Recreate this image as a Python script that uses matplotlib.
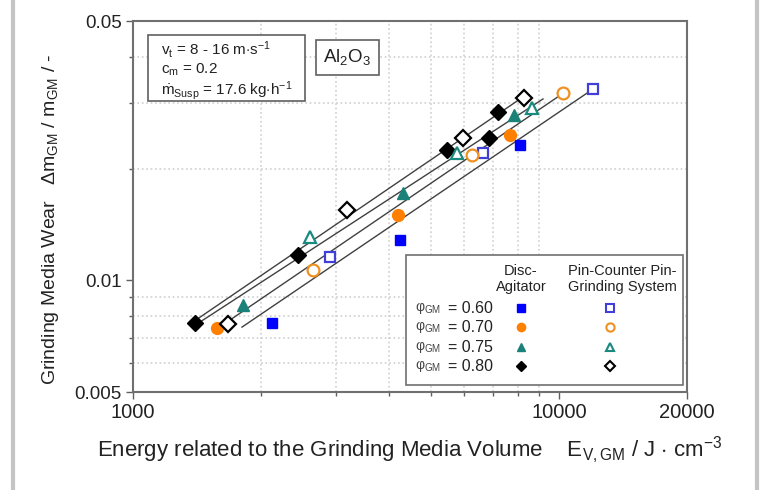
import matplotlib
matplotlib.use("Agg")
import matplotlib.pyplot as plt
from matplotlib.lines import Line2D
from matplotlib.ticker import LogLocator, FixedLocator, NullFormatter, FixedFormatter
import numpy as np

plt.rcParams['font.family'] = ['Liberation Sans', 'DejaVu Sans']
plt.rcParams['mathtext.fontset'] = 'custom'
plt.rcParams['mathtext.rm'] = 'Liberation Sans'
plt.rcParams['mathtext.it'] = 'Liberation Sans'
plt.rcParams['mathtext.bf'] = 'Liberation Sans:bold'

# ---- data ----
phi_labels = ["0.60", "0.70", "0.75", "0.80"]

E_disc_060 = [2121, 4238, 8109]
W_disc_060 = [0.00767, 0.01284, 0.02316]
E_disc_070 = [1575, 4193, 7683]
W_disc_070 = [0.00744, 0.0150, 0.02464]
E_disc_075 = [1813, 4307, 7851]
W_disc_075 = [0.00858, 0.01719, 0.02790]
E_disc_080 = [1398, 2441, 5464, 6857, 7197]
W_disc_080 = [0.00767, 0.0117, 0.02245, 0.02419, 0.02842]

E_pin_060 = [2902, 6637, 12033]
W_pin_060 = [0.01156, 0.02204, 0.03278]
E_pin_070 = [2647, 6254, 10231]
W_pin_070 = [0.01066, 0.02176, 0.03198]
E_pin_075 = [2605, 5767, 8652]
W_pin_075 = [0.01308, 0.02204, 0.02914]
E_pin_080 = [1672, 3182, 5957, 8286]
W_pin_080 = [0.00763, 0.01548, 0.02419, 0.03101]

# fitted trend lines (start / end in data units)
fit_E_start = [1383, 1437, 1663, 1803]
fit_W_start = [0.00772, 0.00772, 0.00772, 0.00748]
fit_E_end = [8239, 9181, 10174, 12033]
fit_W_end = [0.03120, 0.03082, 0.03178, 0.03278]

x_ticks = [1000, 10000, 20000]
x_ticklabels = ["1000", "10000", "20000"]
y_ticks = [0.005, 0.01, 0.05]
y_ticklabels = ["0.005", "0.01", "0.05"]

info_lines = ["v$_{t}$ = 8 - 16 m$\\cdot$s$^{-1}$",
              "c$_{m}$ = 0.2",
              "$\\dot{\\mathrm{m}}_{Susp}$ = 17.6 kg$\\cdot$h$^{-1}$"]

# ---- styles ----
disc_styles = [
    dict(marker='s', color='#0000ff', ms=7.5),
    dict(marker='o', color='#ff7f00', ms=8.5),
    dict(marker='^', color='#1a8278', ms=9),
    dict(marker='D', color='#000000', ms=8),
]
pin_styles = [
    dict(marker='s', color='#4040d8', ms=7.5),
    dict(marker='o', color='#f09020', ms=8.5),
    dict(marker='^', color='#1a8a80', ms=9),
    dict(marker='D', color='#000000', ms=8),
]

fig = plt.figure(figsize=(7.6, 4.9), dpi=100)
ax = fig.add_axes([133/760, 1-392/490, (687-133)/760, (392-21)/490])
ax.set_xscale('log')
ax.set_yscale('log')
ax.set_xlim(1000, 20000)
ax.set_ylim(0.005, 0.05)

def ax_x(px):
    return (px - 133) / 554

def ax_y(py):
    return (392 - py) / 371

# grid (dotted, minor positions)
ax.grid(True, which='minor', linestyle=':', color='#cfcfcf', linewidth=1.2)
ax.set_axisbelow(True)

# trend lines
for es, ws, ee, we in zip(fit_E_start, fit_W_start, fit_E_end, fit_W_end):
    ax.plot([es, ee], [ws, we], color='#404040', linewidth=1.0, zorder=2)

disc_E = [E_disc_060, E_disc_070, E_disc_075, E_disc_080]
disc_W = [W_disc_060, W_disc_070, W_disc_075, W_disc_080]
pin_E = [E_pin_060, E_pin_070, E_pin_075, E_pin_080]
pin_W = [W_pin_060, W_pin_070, W_pin_075, W_pin_080]

for E, W, st in zip(disc_E, disc_W, disc_styles):
    ax.plot(E, W, linestyle='none', marker=st['marker'], markersize=st['ms'],
            color=st['color'], markeredgecolor=st['color'], zorder=3)
for E, W, st in zip(pin_E, pin_W, pin_styles):
    ax.plot(E, W, linestyle='none', marker=st['marker'], markersize=st['ms'],
            markerfacecolor='white', markeredgecolor=st['color'],
            markeredgewidth=1.6, zorder=3)

# ticks
ax.xaxis.set_major_locator(FixedLocator(x_ticks))
ax.xaxis.set_major_formatter(FixedFormatter(x_ticklabels))
ax.xaxis.set_minor_locator(LogLocator(base=10, subs=np.arange(2, 10)))
ax.xaxis.set_minor_formatter(NullFormatter())
ax.yaxis.set_major_locator(FixedLocator(y_ticks))
ax.yaxis.set_major_formatter(FixedFormatter(y_ticklabels))
ax.yaxis.set_minor_locator(LogLocator(base=10, subs=np.arange(2, 10)))
ax.yaxis.set_minor_formatter(NullFormatter())
ax.tick_params(which='major', direction='out', length=5, width=1, color='#606060',
               labelcolor='#222222', pad=3)
ax.tick_params(axis='y', which='major', labelsize=13.5)
ax.tick_params(axis='x', which='major', labelsize=14.5)
ax.tick_params(which='minor', direction='out', length=3, width=1, color='#606060')

for sp in ax.spines.values():
    sp.set_color('#707070')
    sp.set_linewidth(1.5)

ax.set_xlabel("Energy related to the Grinding Media Volume    E$_{V,GM}$ / J $\\cdot$ cm$^{-3}$",
              fontsize=16, color='#222222', labelpad=9)
ax.set_ylabel("Grinding Media Wear   $\\Delta$m$_{GM}$ / m$_{GM}$ / -",
              fontsize=14, color='#222222')
ax.yaxis.set_label_coords(-0.13, 0.465)

# info box 1
ax.add_patch(plt.Rectangle((ax_x(148), ax_y(101)), ax_x(305) - ax_x(148), ax_y(35) - ax_y(101),
                           transform=ax.transAxes, facecolor='white', edgecolor='#606060',
                           linewidth=1.2, zorder=5))
for txt, py in zip(info_lines, [49, 70, 91]):
    ax.text(ax_x(161), ax_y(py), txt, transform=ax.transAxes, fontsize=11,
            va='center', ha='left', color='#222222', zorder=6)

# info box 2
ax.text(ax_x(323), ax_y(57), "Al$_{2}$O$_{3}$", transform=ax.transAxes, fontsize=13.5,
        va='center', ha='left', color='#222222',
        bbox=dict(boxstyle='square,pad=0.4', facecolor='white', edgecolor='#606060', linewidth=1.2))

# custom legend
ax.add_patch(plt.Rectangle((ax_x(406), ax_y(385)), ax_x(683) - ax_x(406), ax_y(255) - ax_y(385),
                           transform=ax.transAxes, facecolor='white', edgecolor='#707070',
                           linewidth=1.2, zorder=5))
ax.text(ax_x(521), ax_y(279), "Disc-\nAgitator", transform=ax.transAxes, fontsize=10.5,
        ha='center', va='center', color='#222222', zorder=6, linespacing=1.2)
ax.text(ax_x(622), ax_y(279), "Pin-Counter Pin-\nGrinding System", transform=ax.transAxes,
        fontsize=10.5, ha='center', va='center', color='#222222', zorder=6, linespacing=1.2)
row_y = [308, 327, 347, 366]
for lab, ry, sd, sp_ in zip(phi_labels, row_y, disc_styles, pin_styles):
    yy = ax_y(ry)
    ax.text(ax_x(415), yy, "φ$_{GM}$", transform=ax.transAxes, fontsize=10,
            ha='left', va='center', color='#444444', zorder=6)
    ax.text(ax_x(448), yy, "= " + lab, transform=ax.transAxes, fontsize=11.5,
            ha='left', va='center', color='#222222', zorder=6)
    ax.plot([ax_x(521)], [yy], transform=ax.transAxes, linestyle='none',
            marker=sd['marker'], markersize=sd['ms']*0.7, color=sd['color'],
            clip_on=False, zorder=7)
    ax.plot([ax_x(610)], [yy], transform=ax.transAxes, linestyle='none',
            marker=sp_['marker'], markersize=sp_['ms']*0.7, markerfacecolor='white',
            markeredgecolor=sp_['color'], markeredgewidth=1.5, clip_on=False, zorder=7)

# outer frame lines (left / right)
fig.add_artist(Line2D([13/760, 13/760], [0, 1], transform=fig.transFigure,
                      color='#c4c4c4', linewidth=3))
fig.add_artist(Line2D([757/760, 757/760], [0, 1], transform=fig.transFigure,
                      color='#c4c4c4', linewidth=3))

fig.savefig("out.png", dpi=100)
